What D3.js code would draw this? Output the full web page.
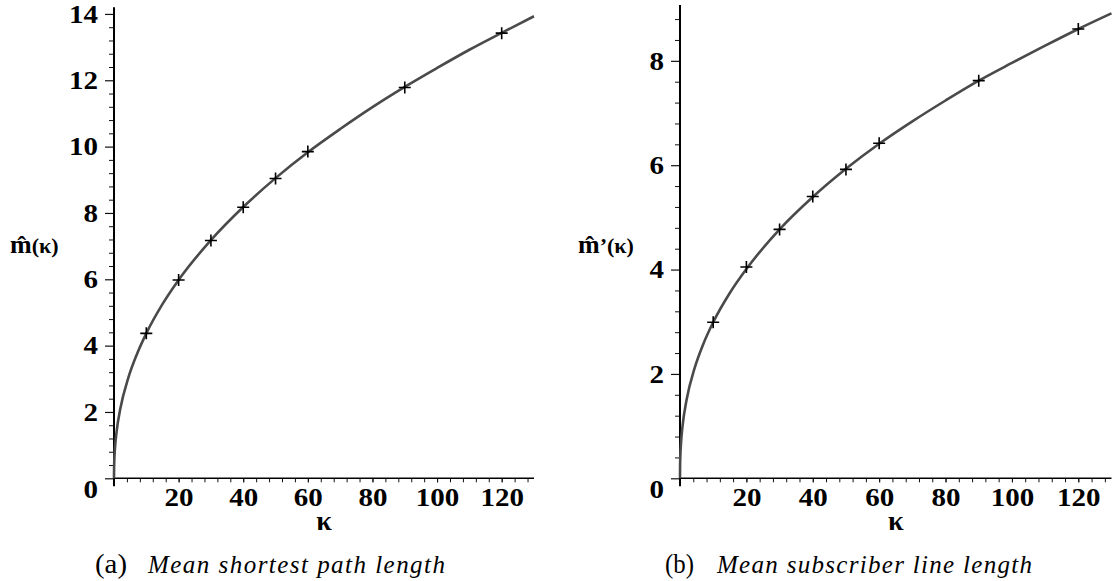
<!DOCTYPE html>
<html>
<head>
<meta charset="utf-8">
<script src="https://cdn.jsdelivr.net/npm/d3@7"></script>
<style>
  html, body { margin: 0; padding: 0; background: #fff; }
  svg { display: block; }
</style>
</head>
<body>
<svg id="chart" width="1117" height="581"></svg>
<script>
// ---- data ----
const kappa = [10, 20, 30, 40, 50, 60, 90, 120];
const meanPathLength = [4.37, 5.98, 7.17, 8.17, 9.04, 9.85, 11.78, 13.42];
const meanLineLength = [2.99, 4.05, 4.77, 5.40, 5.92, 6.42, 7.62, 8.61];

const curveKappa = [0, 0.02, 0.1, 0.3, 0.8, 2, 4.4, 7, 10, 15, 20, 30, 40, 50, 60, 70, 80, 90, 100, 110, 120, 130];
const fitPathLength = [0, 0.26, 0.55, 0.90, 1.40, 2.12, 3.02, 3.72, 4.37, 5.25, 5.98, 7.18, 8.18, 9.05, 9.83, 10.53, 11.19, 11.80, 12.37, 12.92, 13.43, 13.93];
const fitLineLength = [0, 0.21, 0.42, 0.67, 1.02, 1.51, 2.11, 2.57, 2.99, 3.55, 4.01, 4.77, 5.39, 5.93, 6.41, 6.84, 7.24, 7.62, 7.96, 8.29, 8.61, 8.91];

const xTickLabels = [20, 40, 60, 80, 100, 120];
const yTickLabelsA = [0, 2, 4, 6, 8, 10, 12, 14];
const yTickLabelsB = [0, 2, 4, 6, 8];

const captionLetters = ["(a)", "(b)"];
const captionTexts = ["Mean shortest path length", "Mean subscriber line length"];
const yLabelMain = ["m\u0302", "m\u0302"];
const yLabelSuffix = ["(κ)", "’(κ)"];
const xLabel = "κ";

// ---- drawing ----
const svg = d3.select("#chart");
const SERIF = "'Liberation Serif', 'Times New Roman', Times, serif";
const DIGIT_W = 14.5;

function drawPanel(p) {
  const x = d3.scaleLinear().domain([0, 130]).range([p.x0, p.x1]);
  const y = d3.scaleLinear().domain([0, p.yMax]).range([p.yBase, p.yTop]);
  const g = svg.append("g");

  // minor ticks
  const xMinor = d3.range(4, 130, 4);
  const yMinor = d3.range(0.4, p.yMax, 0.4).filter(v => Math.abs(v / 2 - Math.round(v / 2)) > 1e-6);

  g.append("g").attr("transform", `translate(0,${p.yBase})`)
    .call(d3.axisBottom(x).tickValues(xMinor).tickSize(4).tickFormat(""))
    .call(a => a.select(".domain").remove())
    .selectAll("line").attr("stroke", "#111").attr("stroke-width", 1);

  g.append("g").attr("transform", `translate(${p.x0},0)`)
    .call(d3.axisLeft(y).tickValues(yMinor).tickSize(5).tickFormat(""))
    .call(a => a.select(".domain").remove())
    .selectAll("line").attr("stroke", "#111").attr("stroke-width", 1);

  // major x ticks + labels
  const xa = g.append("g").attr("transform", `translate(0,${p.yBase})`)
    .call(d3.axisBottom(x).tickValues(xTickLabels).tickSize(4).tickPadding(5).tickFormat(d3.format("d")))
    .call(a => a.select(".domain").remove());
  xa.selectAll("line").attr("stroke", "#111").attr("stroke-width", 1);
  xa.selectAll("text")
    .attr("font-family", SERIF).attr("font-weight", "bold").attr("font-size", 26)
    .attr("fill", "#000")
    .attr("textLength", d => String(d).length * DIGIT_W)
    .attr("lengthAdjust", "spacingAndGlyphs");

  // major y ticks + labels
  const ya = g.append("g").attr("transform", `translate(${p.x0},0)`)
    .call(d3.axisLeft(y).tickValues(p.yTicks).tickSize(9).tickPadding(7).tickFormat(d3.format("d")))
    .call(a => a.select(".domain").remove());
  ya.selectAll("line").attr("stroke", "#111").attr("stroke-width", 1.2);
  ya.selectAll("text")
    .attr("font-family", SERIF).attr("font-weight", "bold").attr("font-size", 26)
    .attr("fill", "#000")
    .attr("textLength", d => String(d).length * DIGIT_W)
    .attr("lengthAdjust", "spacingAndGlyphs")
    .attr("dy", d => d === 0 ? "0.72em" : "0.32em");

  // axis lines
  g.append("line").attr("x1", x(0)).attr("x2", x(130))
    .attr("y1", y(0)).attr("y2", y(0)).attr("stroke", "#000").attr("stroke-width", 1.6);
  g.append("line").attr("x1", x(0)).attr("x2", x(0))
    .attr("y1", y(p.yMax)).attr("y2", y(0) + 8).attr("stroke", "#000").attr("stroke-width", 2);

  // fitted curve
  const line = d3.line().x(d => x(d[0])).y(d => y(d[1])).curve(d3.curveMonotoneX);
  g.append("path")
    .datum(curveKappa.map((k, i) => [k, p.fit[i]]))
    .attr("d", line).attr("fill", "none")
    .attr("stroke", "#4a4a4a").attr("stroke-width", 2.6);

  // point markers (+)
  g.selectAll("path.pt").data(kappa.map((k, i) => [k, p.pts[i]])).enter()
    .append("path").attr("class", "pt")
    .attr("transform", d => `translate(${x(d[0])},${y(d[1])})`)
    .attr("d", "M-6,0H6M0,-6V6")
    .attr("stroke", "#000").attr("stroke-width", 1.6).attr("fill", "none");

  // x label
  g.append("text").attr("x", (p.x0 + p.x1) / 2).attr("y", 530)
    .attr("text-anchor", "middle")
    .attr("font-family", SERIF).attr("font-weight", "bold").attr("font-size", 28)
    .text(xLabel);

  // y label
  const yl = g.append("text").attr("x", p.ylx).attr("y", 253)
    .attr("font-family", SERIF).attr("font-weight", "bold").attr("font-size", 26)
    .attr("fill", "#000");
  yl.append("tspan").text(yLabelMain[p.i]);
  yl.append("tspan").attr("font-size", 22).text(yLabelSuffix[p.i]);

  // caption
  const cap = g.append("text").attr("x", p.capX).attr("y", 573)
    .attr("font-family", SERIF).attr("font-size", 28).attr("fill", "#000");
  cap.append("tspan").attr("textLength", p.capLetterW).attr("lengthAdjust", "spacingAndGlyphs")
    .text(captionLetters[p.i]);
  cap.append("tspan").attr("x", p.capItalX).attr("font-style", "italic").attr("font-size", 25)
    .attr("textLength", p.capItalW).attr("lengthAdjust", "spacing")
    .text(captionTexts[p.i]);
}

drawPanel({ i: 0, x0: 114, x1: 534, yBase: 478.3, yTop: 7.3, yMax: 14.2,
  yTicks: yTickLabelsA, fit: fitPathLength, pts: meanPathLength,
  ylx: 10, capX: 95, capLetterW: 32, capItalX: 148, capItalW: 297 });

drawPanel({ i: 1, x0: 680, x1: 1111.5, yBase: 478.3, yTop: 5, yMax: 9.07,
  yTicks: yTickLabelsB, fit: fitLineLength, pts: meanLineLength,
  ylx: 578, capX: 665, capLetterW: 29, capItalX: 717, capItalW: 315 });
</script>
</body>
</html>
